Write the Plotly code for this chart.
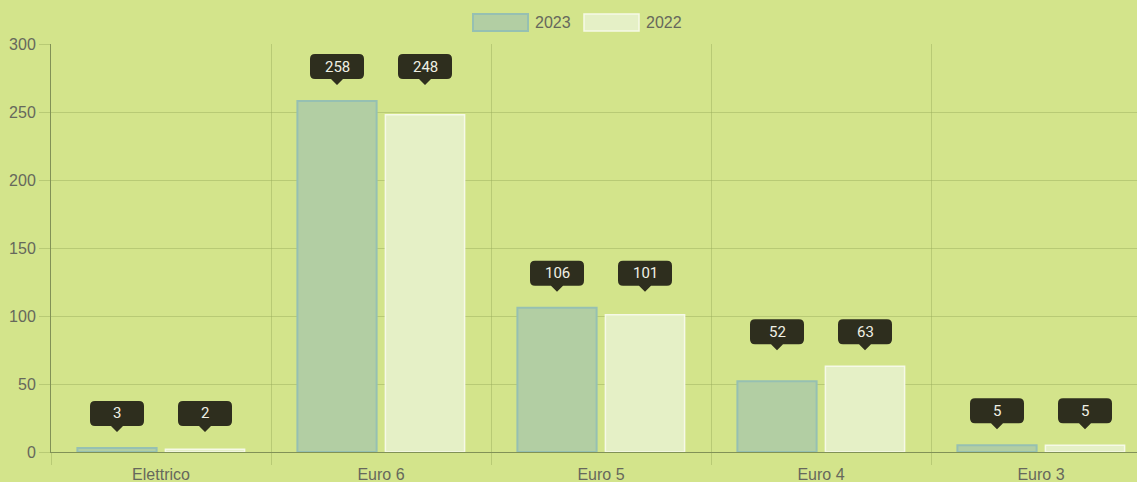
import plotly.graph_objects as go

# Vehicle counts by emission class
categories = ["Elettrico", "Euro 6", "Euro 5", "Euro 4", "Euro 3"]
values_2023 = [3, 258, 106, 52, 5]
values_2022 = [2, 248, 101, 63, 5]
series_names = ["2023", "2022"]

BG = "rgb(211,228,139)"
GRID = "rgba(150,170,90,0.45)"
AXIS = "rgba(120,135,80,0.9)"
TICK_TXT = "rgb(102,104,92)"
FILL_23 = "rgb(178,206,163)"
LINE_23 = "rgb(150,192,178)"
FILL_22 = "rgb(229,240,198)"
LINE_22 = "rgb(246,249,232)"
TIP_BG = "rgb(46,46,30)"

W, H = 1137, 482
ML, MT, MB, MR = 51, 44, 30, 0
CAT_PX = 220  # pixel width of one category slot
plot_w = W - ML - MR
plot_h = H - MT - MB
x_range = [-0.5, -0.5 + plot_w / CAT_PX]

fig = go.Figure()
fig.add_trace(go.Bar(x=categories, y=values_2023, name=series_names[0],
                     marker=dict(color=FILL_23, line=dict(color=LINE_23, width=2))))
fig.add_trace(go.Bar(x=categories, y=values_2022, name=series_names[1],
                     marker=dict(color=FILL_22, line=dict(color=LINE_22, width=1.5))))

# Value tooltips: rounded box with a downward pointer, one per bar,
# placed above the taller bar of each category
bargap = 0.2
slot = (1 - bargap) / 2
offsets = [-slot / 2, slot / 2]
tip_gap = 16
ptr_h, ptr_w = 6, 6
box_w, box_h, r = 54, 25, 5


def bubble_path():
    b = tip_gap + ptr_h
    t = b + box_h
    hw = box_w / 2
    return (f"M 0,{tip_gap} L {-ptr_w},{b} L {-hw + r},{b} Q {-hw},{b} {-hw},{b + r} "
            f"L {-hw},{t - r} Q {-hw},{t} {-hw + r},{t} L {hw - r},{t} Q {hw},{t} {hw},{t - r} "
            f"L {hw},{b + r} Q {hw},{b} {hw - r},{b} L {ptr_w},{b} Z")


path = bubble_path()
for i, cat in enumerate(categories):
    top = max(values_2023[i], values_2022[i])
    for s, vals in enumerate([values_2023, values_2022]):
        xpos = i + offsets[s]
        fig.add_shape(type="path", xref="x", yref="y", xsizemode="pixel", ysizemode="pixel",
                      xanchor=xpos, yanchor=top, path=path,
                      fillcolor=TIP_BG, line=dict(width=0), layer="above")
        fig.add_annotation(x=xpos, y=top, xref="x", yref="y", text=str(vals[i]),
                           showarrow=False, yshift=tip_gap + ptr_h + box_h / 2,
                           yanchor="middle", xanchor="center",
                           font=dict(family="Roboto", size=15, color="rgb(240,240,228)"))

# Legend drawn as wide swatches in pixel-derived paper coordinates
def px_x(px):
    return (px - ML) / plot_w


def px_y(py):
    return (H - MB - py) / plot_h


legend_items = [(473, FILL_23, LINE_23, 2, series_names[0]),
                (584, FILL_22, LINE_22, 1.5, series_names[1])]
for x0, fill, line, lw, label in legend_items:
    fig.add_shape(type="rect", xref="paper", yref="paper",
                  x0=px_x(x0), x1=px_x(x0 + 55), y0=px_y(31), y1=px_y(14),
                  fillcolor=fill, line=dict(color=line, width=lw))
    fig.add_annotation(xref="paper", yref="paper", x=px_x(x0 + 60), y=px_y(22.5),
                       xanchor="left", yanchor="middle", text=label, showarrow=False,
                       font=dict(family="Liberation Sans", size=16, color=TICK_TXT))

fig.update_layout(
    width=W, height=H,
    margin=dict(l=ML, r=MR, t=MT, b=MB, pad=0),
    paper_bgcolor=BG, plot_bgcolor=BG,
    barmode="group", bargap=bargap, bargroupgap=0.1,
    showlegend=False,
    font=dict(family="Liberation Sans", size=16, color=TICK_TXT),
)
fig.update_xaxes(
    type="category", range=x_range, tickson="boundaries",
    showgrid=True, gridcolor=GRID, gridwidth=1,
    ticks="outside", ticklen=12, tickcolor=GRID,
    ticklabelstandoff=8,
    showline=True, linecolor=AXIS, linewidth=1,
    tickfont=dict(size=16, color=TICK_TXT),
)
fig.update_yaxes(
    range=[0, 300], dtick=50,
    showgrid=True, gridcolor=GRID, gridwidth=1,
    ticks="outside", ticklen=11, tickcolor=GRID,
    showline=True, linecolor=AXIS, linewidth=1,
    zeroline=False,
    tickfont=dict(size=16, color=TICK_TXT),
)

fig.write_html("out.html")
